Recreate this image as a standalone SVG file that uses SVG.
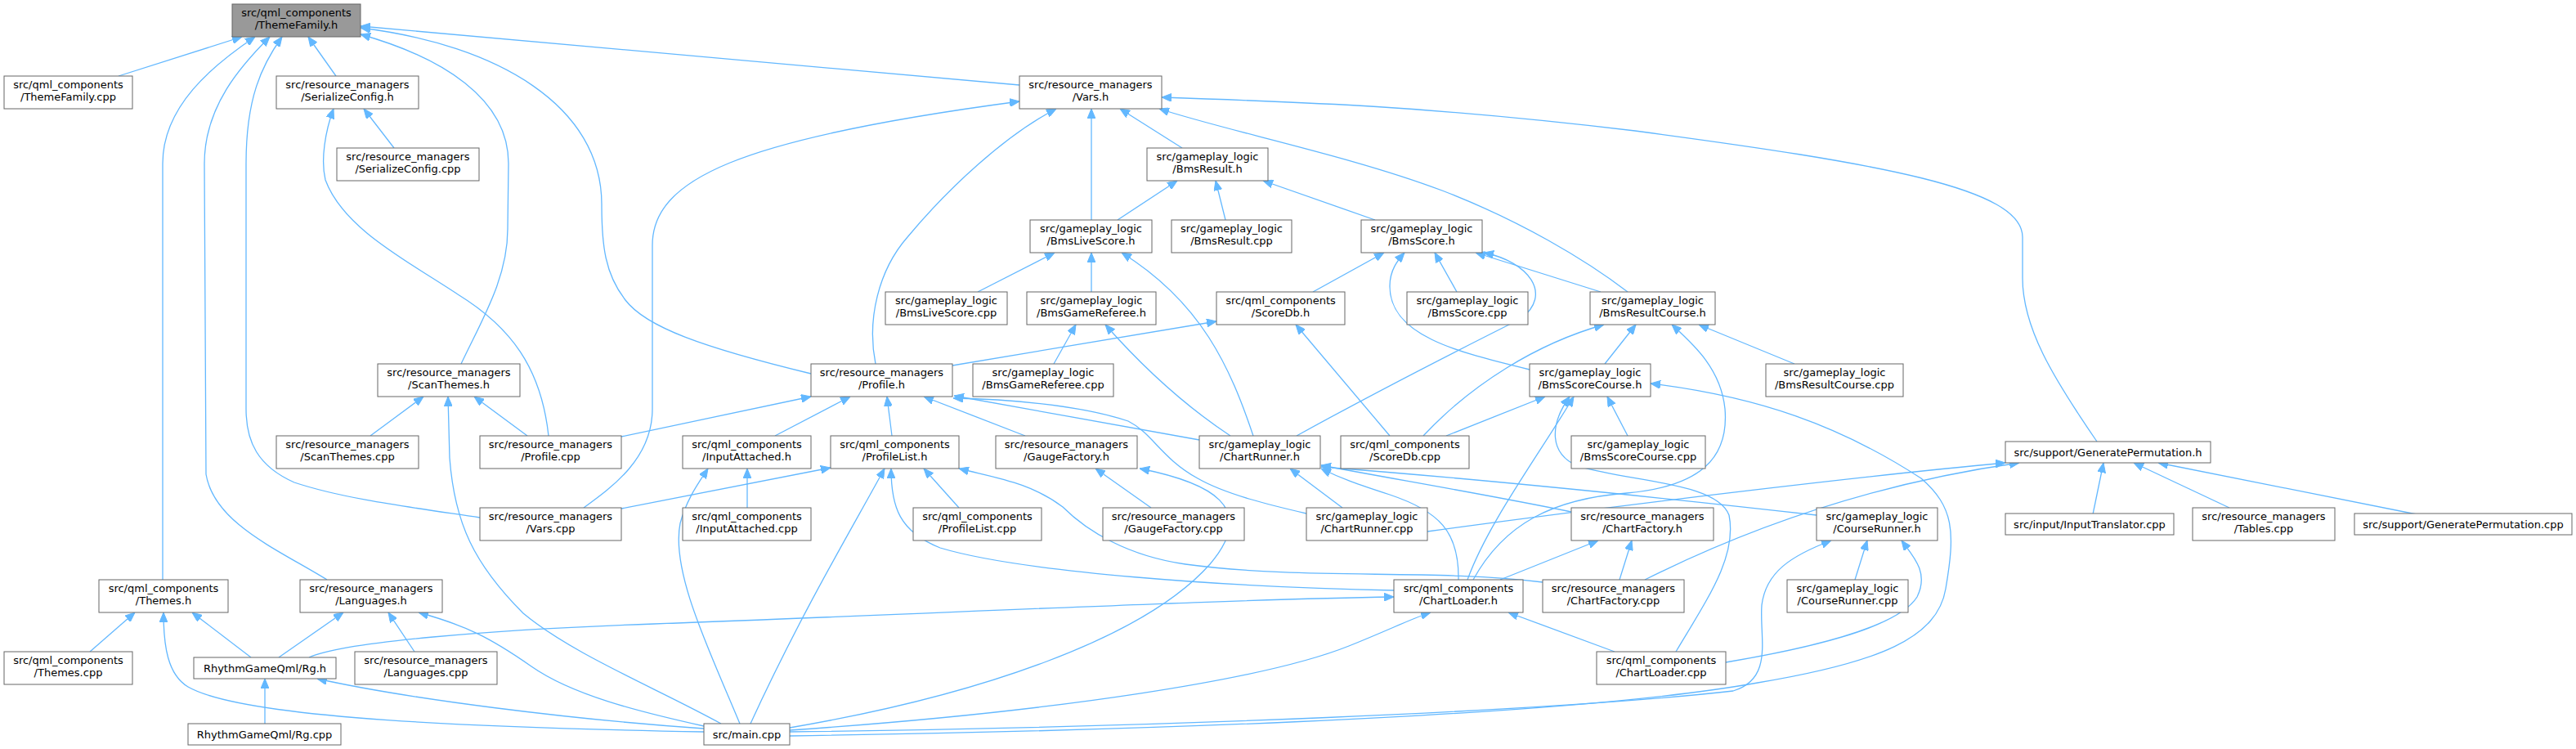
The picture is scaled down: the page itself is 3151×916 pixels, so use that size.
<svg xmlns="http://www.w3.org/2000/svg" width="3151" height="916" viewBox="0 0 3151 916">
<style>
.n rect{fill:#fff;stroke:#666;stroke-width:1}
.n.root rect{fill:#999}
.n text{font-family:"DejaVu Sans","Liberation Sans",sans-serif;font-size:13px;fill:#000;text-anchor:middle}
#edges path{fill:none;stroke:#63b8ff;stroke-width:1.3;marker-end:url(#a)}
</style>
<defs>
<marker id="a" markerUnits="userSpaceOnUse" viewBox="0 0 12 10" refX="12" refY="5" markerWidth="12" markerHeight="10" orient="auto"><path d="M0,0 L12,5 L0,10 z" fill="#63b8ff" stroke="#63b8ff" stroke-width="1"/></marker>
</defs>
<rect width="3151" height="916" fill="#fff"/>
<g id="edges">
<path d="M145,93 L296,45"/>
<path d="M411,93 L377,45"/>
<path d="M199,709 L199,200 C199,130 260,80 312,45"/>
<path d="M400,709 C340,672 262,640 252,580 L250,200 C250,130 295,80 330,45"/>
<path d="M587,633 C500,620 420,610 360,590 C315,570 301,540 301,500 L301,200 C301,120 320,80 345,45"/>
<path d="M1247,104 L441,32"/>
<path d="M992,457 C860,425 790,400 765,367 C740,335 736,300 736,250 C736,130 610,55 441,34"/>
<path d="M564,445 C590,390 621,340 621,280 L622,200 C622,120 540,70 441,42"/>
<path d="M482,181 L445,133"/>
<path d="M671,533 C662,450 625,400 560,360 C500,320 420,280 398,220 C392,195 398,160 408,133"/>
<path d="M714,621 C750,595 798,560 798,500 L798,300 C798,220 900,170 1247,124"/>
<path d="M1071,445 C1060,390 1075,330 1110,290 C1160,230 1230,165 1292,133"/>
<path d="M1335,269 L1335,133"/>
<path d="M1446,181 L1370,133"/>
<path d="M1991,357 C1940,318 1860,270 1764,233 C1650,190 1500,160 1418,133"/>
<path d="M2565,540 C2510,460 2474,400 2474,340 L2474,290 C2474,230 2300,200 2000,160 C1750,130 1600,125 1421,119"/>
<path d="M1367,269 L1440,221"/>
<path d="M1499,269 L1487,221"/>
<path d="M1682,269 L1545,221"/>
<path d="M1196,357 L1290,309"/>
<path d="M1335,357 L1335,309"/>
<path d="M1533,533 C1505,450 1470,370 1372,309"/>
<path d="M1606,357 L1693,309"/>
<path d="M1871,452 C1780,430 1700,410 1700,350 C1700,330 1710,318 1718,309"/>
<path d="M1782,357 L1755,309"/>
<path d="M1958,357 L1805,309"/>
<path d="M1586,533 C1700,470 1800,420 1860,390 C1900,360 1870,320 1815,309"/>
<path d="M1289,445 L1316,397"/>
<path d="M1505,533 C1440,490 1390,440 1352,397"/>
<path d="M1165,447 L1488,393"/>
<path d="M1700,533 L1585,397"/>
<path d="M1741,533 C1800,470 1880,420 1962,397"/>
<path d="M1963,445 L2001,397"/>
<path d="M1802,709 C1840,640 1900,610 1990,603 C2080,595 2115,560 2110,500 C2105,450 2070,420 2045,397"/>
<path d="M2195,445 L2078,397"/>
<path d="M453,533 L518,485"/>
<path d="M645,533 L580,485"/>
<path d="M882,885 C800,840 700,800 640,750 C580,690 556,640 550,560 L548,485"/>
<path d="M760,534 L992,485"/>
<path d="M948,533 L1040,485"/>
<path d="M1091,533 L1085,485"/>
<path d="M1254,533 L1130,485"/>
<path d="M1467,538 L1167,484"/>
<path d="M1598,628 C1555,618 1500,605 1465,585 C1420,560 1410,530 1380,515 C1320,495 1230,488 1166,487"/>
<path d="M1769,533 L1890,485"/>
<path d="M1795,709 C1820,640 1880,560 1925,485"/>
<path d="M2050,797 C2090,730 2125,680 2115,630 C2100,590 2000,590 1930,570 C1895,555 1895,520 1920,485"/>
<path d="M1991,533 L1966,485"/>
<path d="M966,900 C1300,895 1900,880 2150,835 C2300,810 2370,780 2380,720 C2392,650 2390,620 2350,585 C2250,520 2150,485 2019,469"/>
<path d="M905,885 C870,800 820,700 832,640 C840,610 855,590 866,573"/>
<path d="M914,621 L914,573"/>
<path d="M918,885 C980,750 1040,650 1082,573"/>
<path d="M1705,722 C1500,718 1250,700 1150,670 C1100,650 1090,620 1090,573"/>
<path d="M1173,621 L1130,573"/>
<path d="M760,622 L1016,572"/>
<path d="M1887,712 C1750,695 1600,710 1450,690 C1380,680 1330,650 1300,620 C1260,590 1220,585 1173,573"/>
<path d="M1408,621 L1340,573"/>
<path d="M966,890 C1200,850 1400,780 1480,690 C1540,620 1480,590 1394,573"/>
<path d="M1642,621 L1578,573"/>
<path d="M1784,709 C1785,650 1760,625 1700,605 C1660,592 1640,585 1616,573"/>
<path d="M2222,630 C2000,605 1800,585 1616,571"/>
<path d="M1922,626 C1820,605 1700,585 1616,569"/>
<path d="M1746,650 C2000,615 2300,580 2453,566"/>
<path d="M2012,709 C2150,640 2300,590 2470,566"/>
<path d="M2560,629 L2573,566"/>
<path d="M2727,621 L2610,566"/>
<path d="M2956,629 L2640,566"/>
<path d="M1835,709 L1955,661"/>
<path d="M1981,709 L1996,661"/>
<path d="M966,895 C1400,890 1900,870 2120,845 C2170,830 2152,780 2155,740 C2160,700 2190,680 2240,661"/>
<path d="M2269,709 L2284,661"/>
<path d="M2111,810 C2200,795 2320,770 2345,730 C2360,700 2340,680 2326,661"/>
<path d="M110,797 L165,749"/>
<path d="M307,804 L235,749"/>
<path d="M861,895 C600,890 300,880 230,840 C205,825 200,790 200,749"/>
<path d="M341,804 L420,749"/>
<path d="M507,797 L475,749"/>
<path d="M861,888 C780,870 700,850 650,815 C600,780 570,765 512,749"/>
<path d="M378,804 C420,785 600,770 800,763 C1200,748 1500,733 1705,730"/>
<path d="M966,893 C1300,870 1550,830 1650,790 C1700,770 1730,755 1750,749"/>
<path d="M1975,797 L1845,749"/>
<path d="M324,885 L324,830"/>
<path d="M861,891 C700,880 500,855 388,830"/>
</g>
<g id="n0" class="n root"><rect x="284" y="5" width="157" height="40"/><text x="362.5" y="19.5">src/qml_components</text><text x="362.5" y="34.5">/ThemeFamily.h</text></g>
<g id="n1" class="n"><rect x="5" y="93" width="157" height="40"/><text x="83.5" y="107.5">src/qml_components</text><text x="83.5" y="122.5">/ThemeFamily.cpp</text></g>
<g id="n2" class="n"><rect x="338" y="93" width="174" height="40"/><text x="425" y="107.5">src/resource_managers</text><text x="425" y="122.5">/SerializeConfig.h</text></g>
<g id="n3" class="n"><rect x="412" y="181" width="174" height="40"/><text x="499" y="195.5">src/resource_managers</text><text x="499" y="210.5">/SerializeConfig.cpp</text></g>
<g id="n4" class="n"><rect x="1247" y="93" width="174" height="40"/><text x="1334" y="107.5">src/resource_managers</text><text x="1334" y="122.5">/Vars.h</text></g>
<g id="n5" class="n"><rect x="1403" y="181" width="148" height="40"/><text x="1477" y="195.5">src/gameplay_logic</text><text x="1477" y="210.5">/BmsResult.h</text></g>
<g id="n6" class="n"><rect x="1260" y="269" width="149" height="40"/><text x="1334.5" y="283.5">src/gameplay_logic</text><text x="1334.5" y="298.5">/BmsLiveScore.h</text></g>
<g id="n7" class="n"><rect x="1433" y="269" width="147" height="40"/><text x="1506.5" y="283.5">src/gameplay_logic</text><text x="1506.5" y="298.5">/BmsResult.cpp</text></g>
<g id="n8" class="n"><rect x="1665" y="269" width="148" height="40"/><text x="1739" y="283.5">src/gameplay_logic</text><text x="1739" y="298.5">/BmsScore.h</text></g>
<g id="n9" class="n"><rect x="1083" y="357" width="149" height="40"/><text x="1157.5" y="371.5">src/gameplay_logic</text><text x="1157.5" y="386.5">/BmsLiveScore.cpp</text></g>
<g id="n10" class="n"><rect x="1256" y="357" width="158" height="40"/><text x="1335" y="371.5">src/gameplay_logic</text><text x="1335" y="386.5">/BmsGameReferee.h</text></g>
<g id="n11" class="n"><rect x="1488" y="357" width="157" height="40"/><text x="1566.5" y="371.5">src/qml_components</text><text x="1566.5" y="386.5">/ScoreDb.h</text></g>
<g id="n12" class="n"><rect x="1721" y="357" width="148" height="40"/><text x="1795" y="371.5">src/gameplay_logic</text><text x="1795" y="386.5">/BmsScore.cpp</text></g>
<g id="n13" class="n"><rect x="1945" y="357" width="153" height="40"/><text x="2021.5" y="371.5">src/gameplay_logic</text><text x="2021.5" y="386.5">/BmsResultCourse.h</text></g>
<g id="n14" class="n"><rect x="462" y="445" width="174" height="40"/><text x="549" y="459.5">src/resource_managers</text><text x="549" y="474.5">/ScanThemes.h</text></g>
<g id="n15" class="n"><rect x="992" y="445" width="173" height="40"/><text x="1078.5" y="459.5">src/resource_managers</text><text x="1078.5" y="474.5">/Profile.h</text></g>
<g id="n16" class="n"><rect x="1190" y="445" width="172" height="40"/><text x="1276" y="459.5">src/gameplay_logic</text><text x="1276" y="474.5">/BmsGameReferee.cpp</text></g>
<g id="n17" class="n"><rect x="1871" y="445" width="148" height="40"/><text x="1945" y="459.5">src/gameplay_logic</text><text x="1945" y="474.5">/BmsScoreCourse.h</text></g>
<g id="n18" class="n"><rect x="2160" y="445" width="168" height="40"/><text x="2244" y="459.5">src/gameplay_logic</text><text x="2244" y="474.5">/BmsResultCourse.cpp</text></g>
<g id="n19" class="n"><rect x="338" y="533" width="174" height="40"/><text x="425" y="547.5">src/resource_managers</text><text x="425" y="562.5">/ScanThemes.cpp</text></g>
<g id="n20" class="n"><rect x="587" y="533" width="173" height="40"/><text x="673.5" y="547.5">src/resource_managers</text><text x="673.5" y="562.5">/Profile.cpp</text></g>
<g id="n21" class="n"><rect x="835" y="533" width="157" height="40"/><text x="913.5" y="547.5">src/qml_components</text><text x="913.5" y="562.5">/InputAttached.h</text></g>
<g id="n22" class="n"><rect x="1016" y="533" width="157" height="40"/><text x="1094.5" y="547.5">src/qml_components</text><text x="1094.5" y="562.5">/ProfileList.h</text></g>
<g id="n23" class="n"><rect x="1218" y="533" width="173" height="40"/><text x="1304.5" y="547.5">src/resource_managers</text><text x="1304.5" y="562.5">/GaugeFactory.h</text></g>
<g id="n24" class="n"><rect x="1467" y="533" width="148" height="40"/><text x="1541" y="547.5">src/gameplay_logic</text><text x="1541" y="562.5">/ChartRunner.h</text></g>
<g id="n25" class="n"><rect x="1640" y="533" width="157" height="40"/><text x="1718.5" y="547.5">src/qml_components</text><text x="1718.5" y="562.5">/ScoreDb.cpp</text></g>
<g id="n26" class="n"><rect x="1922" y="533" width="164" height="40"/><text x="2004" y="547.5">src/gameplay_logic</text><text x="2004" y="562.5">/BmsScoreCourse.cpp</text></g>
<g id="n27" class="n"><rect x="2453" y="540" width="251" height="26"/><text x="2578.5" y="557.5">src/support/GeneratePermutation.h</text></g>
<g id="n28" class="n"><rect x="587" y="621" width="173" height="40"/><text x="673.5" y="635.5">src/resource_managers</text><text x="673.5" y="650.5">/Vars.cpp</text></g>
<g id="n29" class="n"><rect x="835" y="621" width="157" height="40"/><text x="913.5" y="635.5">src/qml_components</text><text x="913.5" y="650.5">/InputAttached.cpp</text></g>
<g id="n30" class="n"><rect x="1117" y="621" width="157" height="40"/><text x="1195.5" y="635.5">src/qml_components</text><text x="1195.5" y="650.5">/ProfileList.cpp</text></g>
<g id="n31" class="n"><rect x="1349" y="621" width="173" height="40"/><text x="1435.5" y="635.5">src/resource_managers</text><text x="1435.5" y="650.5">/GaugeFactory.cpp</text></g>
<g id="n32" class="n"><rect x="1598" y="621" width="148" height="40"/><text x="1672" y="635.5">src/gameplay_logic</text><text x="1672" y="650.5">/ChartRunner.cpp</text></g>
<g id="n33" class="n"><rect x="1922" y="621" width="174" height="40"/><text x="2009" y="635.5">src/resource_managers</text><text x="2009" y="650.5">/ChartFactory.h</text></g>
<g id="n34" class="n"><rect x="2222" y="621" width="148" height="40"/><text x="2296" y="635.5">src/gameplay_logic</text><text x="2296" y="650.5">/CourseRunner.h</text></g>
<g id="n35" class="n"><rect x="2453" y="628" width="206" height="26"/><text x="2556" y="645.5">src/input/InputTranslator.cpp</text></g>
<g id="n36" class="n"><rect x="2682" y="621" width="174" height="40"/><text x="2769" y="635.5">src/resource_managers</text><text x="2769" y="650.5">/Tables.cpp</text></g>
<g id="n37" class="n"><rect x="2880" y="628" width="266" height="26"/><text x="3013" y="645.5">src/support/GeneratePermutation.cpp</text></g>
<g id="n38" class="n"><rect x="121" y="709" width="158" height="40"/><text x="200" y="723.5">src/qml_components</text><text x="200" y="738.5">/Themes.h</text></g>
<g id="n39" class="n"><rect x="367" y="709" width="174" height="40"/><text x="454" y="723.5">src/resource_managers</text><text x="454" y="738.5">/Languages.h</text></g>
<g id="n40" class="n"><rect x="1705" y="709" width="158" height="40"/><text x="1784" y="723.5">src/qml_components</text><text x="1784" y="738.5">/ChartLoader.h</text></g>
<g id="n41" class="n"><rect x="1887" y="709" width="173" height="40"/><text x="1973.5" y="723.5">src/resource_managers</text><text x="1973.5" y="738.5">/ChartFactory.cpp</text></g>
<g id="n42" class="n"><rect x="2186" y="709" width="148" height="40"/><text x="2260" y="723.5">src/gameplay_logic</text><text x="2260" y="738.5">/CourseRunner.cpp</text></g>
<g id="n43" class="n"><rect x="5" y="797" width="157" height="40"/><text x="83.5" y="811.5">src/qml_components</text><text x="83.5" y="826.5">/Themes.cpp</text></g>
<g id="n44" class="n"><rect x="237" y="804" width="174" height="26"/><text x="324" y="821.5">RhythmGameQml/Rg.h</text></g>
<g id="n45" class="n"><rect x="434" y="797" width="174" height="40"/><text x="521" y="811.5">src/resource_managers</text><text x="521" y="826.5">/Languages.cpp</text></g>
<g id="n46" class="n"><rect x="1953" y="797" width="158" height="40"/><text x="2032" y="811.5">src/qml_components</text><text x="2032" y="826.5">/ChartLoader.cpp</text></g>
<g id="n47" class="n"><rect x="230" y="885" width="187" height="26"/><text x="323.5" y="902.5">RhythmGameQml/Rg.cpp</text></g>
<g id="n48" class="n"><rect x="861" y="885" width="105" height="26"/><text x="913.5" y="902.5">src/main.cpp</text></g>
</svg>
